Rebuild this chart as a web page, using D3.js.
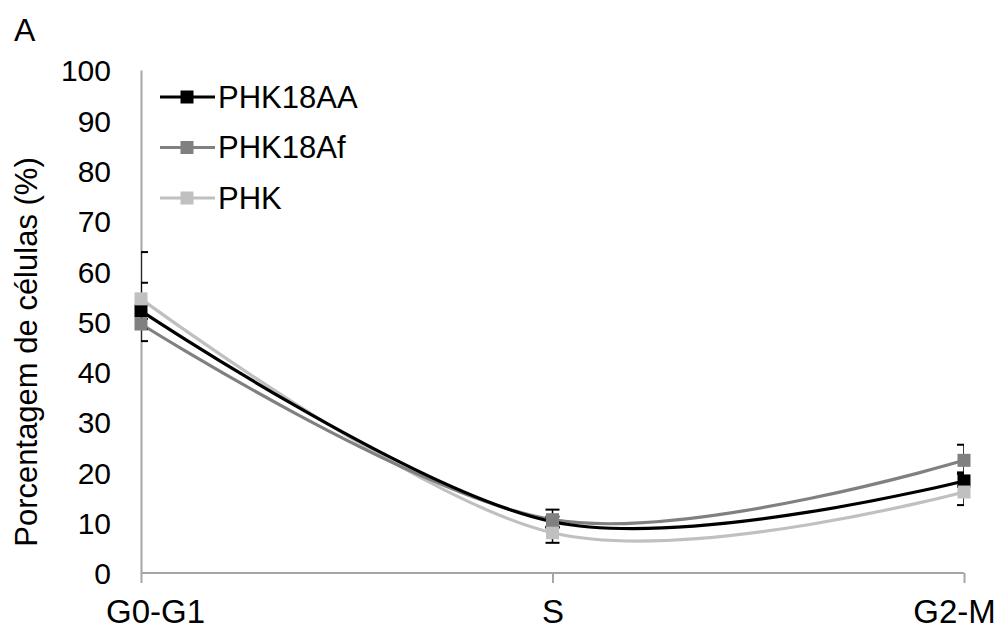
<!DOCTYPE html>
<html>
<head>
<meta charset="utf-8">
<script src="https://cdn.jsdelivr.net/npm/d3@7"></script>
<style>
  html, body { margin: 0; padding: 0; background: #fff; }
  svg { display: block; font-family: "Liberation Sans", Arial, sans-serif; }
</style>
</head>
<body>
<svg id="chart" width="1005" height="633"></svg>
<script>
// ---- data ----
const categories = ["G0-G1", "S", "G2-M"];
const yTicks = [0, 10, 20, 30, 40, 50, 60, 70, 80, 90, 100];
const seriesNames = ["PHK18AA", "PHK18Af", "PHK"];
const seriesColors = ["#000000", "#808080", "#c0c0c0"];
const valuesPHK18AA = [52.1, 10.2, 18.3];
const valuesPHK18Af = [49.5, 10.6, 22.4];
const valuesPHK = [54.5, 8.0, 16.1];
const errPlusPHK18AA = [5.6, 1.0, 1.4];
const errMinusPHK18AA = [6.0, 1.0, 1.0];
const errPlusPHK18Af = [1.0, 2.0, 3.1];
const errMinusPHK18Af = [1.0, 1.5, 2.4];
const errPlusPHK = [9.3, 1.0, 1.0];
const errMinusPHK = [4.0, 2.0, 2.6];

const series = [
  { name: seriesNames[0], color: seriesColors[0], values: valuesPHK18AA, plus: errPlusPHK18AA, minus: errMinusPHK18AA },
  { name: seriesNames[1], color: seriesColors[1], values: valuesPHK18Af, plus: errPlusPHK18Af, minus: errMinusPHK18Af },
  { name: seriesNames[2], color: seriesColors[2], values: valuesPHK, plus: errPlusPHK, minus: errMinusPHK }
];

// ---- layout ----
const svg = d3.select("#chart");
const x = d3.scalePoint().domain(categories).range([141, 964]);
const y = d3.scaleLinear().domain([0, 100]).range([573, 70]);
const axisColor = "#a6a6a6";

svg.append("defs").append("clipPath").attr("id", "plotClip")
  .append("rect").attr("x", 141).attr("y", 0).attr("width", 964 - 141).attr("height", 633);

// panel label
svg.append("text").attr("x", 14).attr("y", 41).attr("font-size", 32).attr("fill", "#000").text("A");

// y axis
const yAxis = svg.append("g").attr("transform", "translate(141,0)")
  .call(d3.axisLeft(y).tickValues(yTicks).tickSize(0).tickPadding(30).tickSizeOuter(0));
yAxis.select(".domain").attr("stroke", axisColor).attr("stroke-width", 2);
yAxis.selectAll("text").attr("font-size", 30).attr("fill", "#000")
  .attr("font-family", "Liberation Sans, Arial, sans-serif").attr("dy", "0.36em");

// x axis
const xAxis = svg.append("g").attr("transform", "translate(0,573)")
  .call(d3.axisBottom(x).tickSize(10).tickSizeOuter(0).tickPadding(0));
xAxis.select(".domain").attr("stroke", axisColor).attr("stroke-width", 2)
  .attr("d", `M${x.range()[0]},0H${x.range()[1]}`);
xAxis.selectAll(".tick line").attr("stroke", axisColor).attr("stroke-width", 2);
xAxis.selectAll("text").attr("font-size", 33).attr("fill", "#000")
  .attr("font-family", "Liberation Sans, Arial, sans-serif")
  .attr("y", 50).attr("dy", 0)
  .attr("dx", (d, i) => i === 0 ? 14 : (i === categories.length - 1 ? -10 : 0));

// y title
svg.append("text")
  .attr("transform", "translate(37,352) rotate(-90)")
  .attr("text-anchor", "middle").attr("font-size", 31).attr("fill", "#000")
  .text("Porcentagem de células (%)");

// lines (smoothed)
const line = d3.line()
  .x((d, i) => x(categories[i]))
  .y(d => y(d))
  .curve(d3.curveCardinal.tension(0));

const lineOrder = [2, 1, 0];
const linesG = svg.append("g");
lineOrder.forEach(k => {
  const s = series[k];
  linesG.append("path").datum(s.values)
    .attr("d", line).attr("fill", "none")
    .attr("stroke", s.color).attr("stroke-width", 3.2);
});

// error bars
const errG = svg.append("g").attr("clip-path", "url(#plotClip)");
series.forEach(s => {
  s.values.forEach((v, i) => {
    const cx = x(categories[i]);
    const top = y(v + s.plus[i]);
    const bot = y(v - s.minus[i]);
    errG.append("line").attr("x1", cx).attr("x2", cx).attr("y1", top).attr("y2", bot)
      .attr("stroke", "#000").attr("stroke-width", 1.5);
    [top, bot].forEach(yy => {
      errG.append("line").attr("x1", cx - 7).attr("x2", cx + 7).attr("y1", yy).attr("y2", yy)
        .attr("stroke", "#000").attr("stroke-width", 2);
    });
  });
});

// markers
const mSize = 13;
const markG = svg.append("g");
series.forEach(s => {
  markG.selectAll(null).data(s.values).enter().append("rect")
    .attr("x", (d, i) => x(categories[i]) - mSize / 2)
    .attr("y", d => y(d) - mSize / 2)
    .attr("width", mSize).attr("height", mSize)
    .attr("fill", s.color);
});

// legend
const legend = svg.append("g");
series.forEach((s, i) => {
  const ly = 97 + i * 50.5;
  legend.append("line").attr("x1", 160).attr("x2", 215).attr("y1", ly).attr("y2", ly)
    .attr("stroke", s.color).attr("stroke-width", 3.2);
  legend.append("rect").attr("x", 187 - mSize / 2).attr("y", ly - mSize / 2)
    .attr("width", mSize).attr("height", mSize).attr("fill", s.color);
  legend.append("text").attr("x", 218).attr("y", ly + 10.5)
    .attr("font-size", 31).attr("fill", "#000").text(s.name);
});
</script>
</body>
</html>
